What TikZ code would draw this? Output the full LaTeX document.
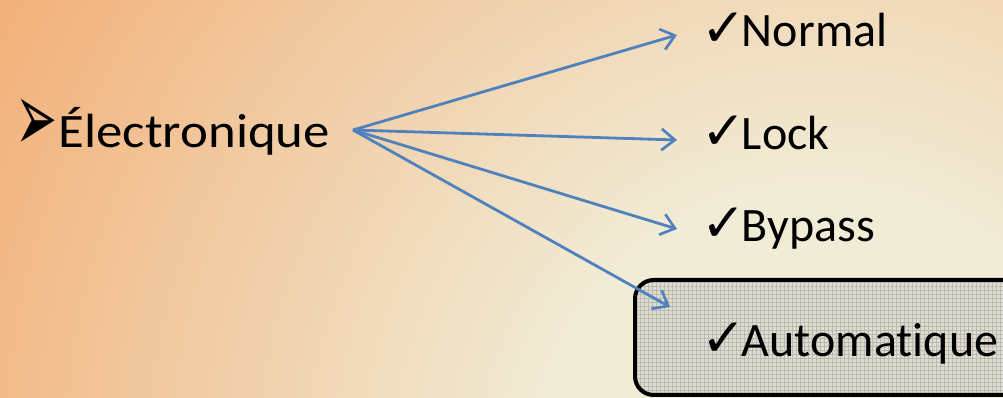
\documentclass[tikz,border=0pt]{standalone}
\usepackage{fontspec}
\setmainfont{Carlito}[Ligatures=NoCommon]
\newfontfamily\symfont{DejaVu Sans}
\usetikzlibrary{arrows.meta,patterns}
\definecolor{cream}{RGB}{241,236,214}
\definecolor{orng}{RGB}{242,160,96}
\definecolor{arrowblue}{RGB}{79,129,189}
\definecolor{boxfill}{RGB}{226,221,202}
\pgfdeclareradialshading{bgshade}{\pgfpoint{0bp}{0bp}}{color(0bp)=(cream); color(7bp)=(cream); color(28bp)=(orng); color(50bp)=(orng)}
\newcommand{\chk}{{\symfont\bfseries\fontsize{40}{42}\selectfont ✓}\kern-3pt}
\tikzset{
  lbl/.style={anchor=base west, inner sep=0pt, font=\fontsize{36}{44}\selectfont, text=black},
  conn/.style={draw=arrowblue, line width=2.1pt, -{Straight Barb[length=10pt,width=16pt,line width=2pt]}},
  selbox/.style={line width=3pt, rounded corners=14pt}
}
\begin{document}
\begin{tikzpicture}[x=0.75pt,y=-0.75pt]
\useasboundingbox (0,0) rectangle (1003,398);
\begin{scope}
\clip (0,0) rectangle (1003,398);
\path[shading=bgshade] (-180,-530) rectangle (1820,1470);
\fill[boxfill, rounded corners=14pt] (635,280) rectangle (1030,395);
\fill[pattern=grid, pattern color=gray!55, rounded corners=14pt] (635,280) rectangle (1030,395);
\draw[selbox] (635,280) rectangle (1030,395);
\end{scope}
\node[lbl] (elec) at (15,148) {\raisebox{-3pt}{\scalebox{0.82}[1.6]{\symfont\fontsize{46}{48}\selectfont ➢}}\kern1pt\scalebox{1.1}[1]{Électronique}};
\node[lbl] (normal) at (701,47) {\chk Normal};
\node[lbl] (lock) at (701,150) {\chk Lock};
\node[lbl] (bypass) at (701,242) {\chk Bypass};
\node[lbl] (auto) at (701,357) {\chk Automatique};
\coordinate (hub) at (353,130);
\coordinate (tN) at (677,35);
\coordinate (tL) at (677,140);
\coordinate (tB) at (677,229);
\coordinate (tA) at (670,307);
\draw[conn] (hub) -- (tN);
\draw[conn] (hub) -- (tL);
\draw[conn] (hub) -- (tB);
\draw[conn] (hub) -- (tA);
\end{tikzpicture}
\end{document}
